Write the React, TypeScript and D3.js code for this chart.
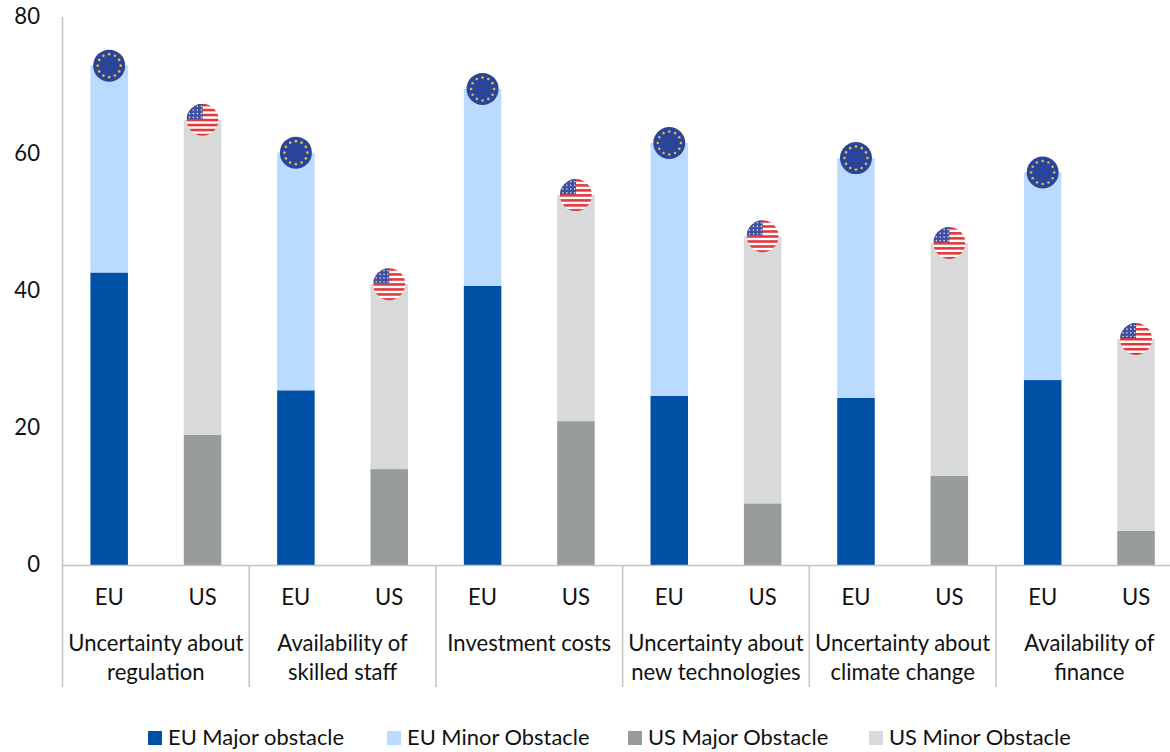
import React from "react";
import * as d3 from "d3";

const W = 1170, H = 752;
const groups = [["Uncertainty about", "regulation"], ["Availability of", "skilled staff"], ["Investment costs"], ["Uncertainty about", "new technologies"], ["Uncertainty about", "climate change"], ["Availability of", "finance"]];
const regions = ["EU", "US"];
const euMajor = [42.7, 25.5, 40.75, 24.7, 24.4, 27];
const euMinor = [30.2, 34.7, 28.75, 36.9, 35, 30.3];
const usMajor = [19, 14, 21, 9, 13, 5];
const usMinor = [46, 27, 33, 39, 34, 28];
const yTicks = [0, 20, 40, 60, 80];
const legendItems = ["EU Major obstacle", "EU Minor Obstacle", "US Major Obstacle", "US Minor Obstacle"];
const legendColors = ["#0050A5", "#BADBFF", "#999C9C", "#D8D9DA"];
const legendX = [148, 387, 628, 869];
const font = "Lato, Carlito, 'Open Sans', sans-serif";
const ink = "#111111";
const axisColor = "#c4c4c4";

const x0 = 62.5, step = 93.35;
const fontSize = 22.1;
const legendFontSize = 21.9;
const bandIds = d3.range(12);
const x = d3.scaleBand<number>().domain(bandIds).range([x0, x0 + step * 12]).paddingInner(0.6).paddingOuter(0.3);
const y = d3.scaleLinear().domain([0, 80]).range([565, 17]);
const barW = 37.5;
const R = 16;

const EUFlag = ({ cx, cy }: { cx: number; cy: number }) => (
  <g transform={`translate(${cx},${cy})`}>
    <circle r={R} fill="#2A449C" />
    {d3.range(12).map((i) => {
      const a = (i / 12) * 2 * Math.PI;
      return <circle key={i} cx={11.5 * Math.cos(a)} cy={11.5 * Math.sin(a)} r={1.3} fill="#DDBE3C" />;
    })}
  </g>
);

const stripes = d3.range(7);
const USFlag = ({ cx, cy, id }: { cx: number; cy: number; id: string }) => (
  <g transform={`translate(${cx},${cy})`}>
    <clipPath id={id}><circle r={R} /></clipPath>
    <g clipPath={`url(#${id})`}>
      <rect x={-R} y={-R} width={2 * R} height={2 * R} fill="#fff" />
      {stripes.map((i) => <rect key={i} x={-R} y={-R + i * 5} width={2 * R} height={2.6} fill="#E5383B" />)}
      <rect x={-R} y={-R} width={R} height={R * 0.95} fill="#3F4F9F" />
      {d3.range(4).map((r) => d3.range(4).map((c) => (
        <circle key={`${r}-${c}`} cx={-R + 3 + c * 3.9} cy={-R + 2.5 + r * 3.7} r={0.8} fill="#dfe3f5" />
      )))}
    </g>
  </g>
);

export default function App() {
  const bars = groups.flatMap((_, i) => {
    const eu = x(i * 2)!;
    const us = x(i * 2 + 1)!;
    return [
      { k: `a${i}`, x: eu, lo: 0, hi: euMajor[i], c: legendColors[0] },
      { k: `b${i}`, x: eu, lo: euMajor[i], hi: euMajor[i] + euMinor[i], c: legendColors[1] },
      { k: `c${i}`, x: us, lo: 0, hi: usMajor[i], c: legendColors[2] },
      { k: `d${i}`, x: us, lo: usMajor[i], hi: usMajor[i] + usMinor[i], c: legendColors[3] },
    ];
  });
  const center = (b: number) => x0 + step * (b + 0.5);
  return (
    <svg width={W} height={H} viewBox={`0 0 ${W} ${H}`} style={{ position: "absolute", left: 0, top: 0, background: "#fff" }} fontFamily={font}>
      {bars.map((b) => (
        <rect key={b.k} x={b.x + (x.bandwidth() - barW) / 2} y={y(b.hi)} width={barW} height={y(b.lo) - y(b.hi)} fill={b.c} />
      ))}
      <line x1={x0} x2={x0} y1={17} y2={565} stroke={axisColor} strokeWidth={1.5} />
      <line x1={x0} x2={W} y1={565.5} y2={565.5} stroke={axisColor} strokeWidth={1.5} />
      {d3.range(7).map((i) => (
        <line key={i} x1={x0 + i * step * 2} x2={x0 + i * step * 2} y1={565} y2={687} stroke={axisColor} strokeWidth={1.5} />
      ))}
      {yTicks.map((t) => (
        <text key={t} x={40} y={y(t) - 1} dy="0.35em" textAnchor="end" fontSize={fontSize} fill={ink}>{t}</text>
      ))}
      {bandIds.map((b) => (
        <text key={b} x={center(b)} y={605} textAnchor="middle" fontSize={fontSize} fill={ink}>{regions[b % 2]}</text>
      ))}
      {groups.map((g, i) => (
        <text key={i} textAnchor="middle" fontSize={fontSize} fill={ink}>
          {g.map((l, j) => (
            <tspan key={j} x={x0 + step * (2 * i + 1)} y={651 + j * 29}>{l}</tspan>
          ))}
        </text>
      ))}
      {groups.map((_, i) => (
        <g key={i}>
          <EUFlag cx={center(2 * i)} cy={y(euMajor[i] + euMinor[i])} />
          <USFlag cx={center(2 * i + 1)} cy={y(usMajor[i] + usMinor[i])} id={`usclip${i}`} />
        </g>
      ))}
      {legendItems.map((l, i) => (
        <g key={l}>
          <rect x={legendX[i]} y={731} width={14} height={14} fill={legendColors[i]} />
          <text x={legendX[i] + 20} y={745} fontSize={legendFontSize} fill={ink}>{l}</text>
        </g>
      ))}
    </svg>
  );
}
